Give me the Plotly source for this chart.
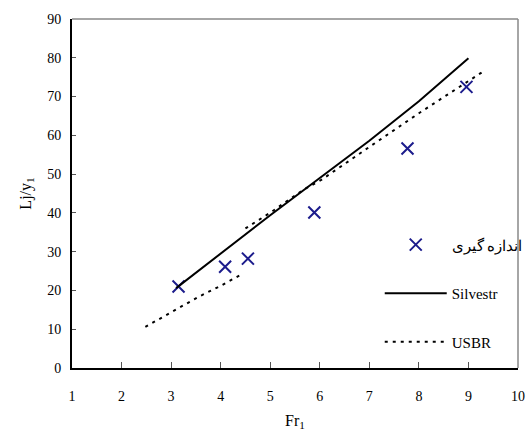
import plotly.graph_objects as go

# Measured data
meas_x = [3.15, 4.09, 4.55, 5.89, 7.77, 8.96]
meas_y = [21.0, 26.1, 28.2, 40.1, 56.6, 72.5]

# Silvestr curve
silv_x = [3.1, 4.0, 5.0, 6.0, 7.0, 8.0, 9.0]
silv_y = [20.6, 29.5, 39.4, 49.0, 58.6, 68.8, 79.9]

# USBR curve (two segments)
usbr_x = [2.48, 3.0, 3.56, 4.0, 4.43, None, 4.5, 5.03, 5.66, 6.03, 7.0, 8.0, 9.0, 9.34]
usbr_y = [10.6, 14.3, 18.4, 21.2, 24.2, None, 36.0, 40.3, 45.9, 48.5, 57.0, 65.7, 74.0, 76.8]

x_ticks = [1, 2, 3, 4, 5, 6, 7, 8, 9, 10]
y_ticks = [0, 10, 20, 30, 40, 50, 60, 70, 80, 90]

FONT = "Liberation Serif"

fig = go.Figure()
fig.add_trace(go.Scatter(
    x=meas_x, y=meas_y, mode="markers", name="اندازه گیری",
    marker=dict(symbol="x-thin", size=12, line=dict(width=2, color="#1c1c8c"), color="#1c1c8c"),
    legendgroup="a"))
fig.add_trace(go.Scatter(
    x=silv_x, y=silv_y, mode="lines", name="Silvestr",
    line=dict(color="black", width=2), legendgroup="b"))
fig.add_trace(go.Scatter(
    x=usbr_x, y=usbr_y, mode="lines", name="USBR", connectgaps=False,
    line=dict(color="black", width=2, dash="3px,5px"), legendgroup="c"))

fig.update_layout(
    width=526, height=442,
    margin=dict(l=72, r=8, t=19, b=74, autoexpand=False),
    paper_bgcolor="white", plot_bgcolor="white",
    font=dict(family=FONT, size=14, color="black"),
    showlegend=True,
    legend=dict(x=0.69, y=0.40, xanchor="left", yanchor="top",
                bgcolor="rgba(0,0,0,0)", tracegroupgap=26, itemwidth=62,
                font=dict(family=FONT, size=15)),
    xaxis=dict(range=[1, 10], tickvals=x_ticks, ticktext=[str(v) for v in x_ticks],
               showgrid=False, zeroline=False, showline=True, linecolor="black", linewidth=2,
               ticks="inside", ticklen=6, tickcolor="#555", tickwidth=1,
               ticklabelstandoff=14, ticklabeloverflow="allow",
               title=dict(text="Fr<sub>1</sub>", standoff=12, font=dict(size=16))),
    yaxis=dict(range=[0, 90], tickvals=y_ticks, ticktext=[str(v) for v in y_ticks],
               showgrid=False, zeroline=False, showline=True, linecolor="black", linewidth=2,
               ticks="inside", ticklen=4, tickcolor="#555", tickwidth=1,
               ticklabelstandoff=6, ticklabeloverflow="allow",
               title=dict(text="Lj/y<sub>1</sub>", standoff=12, font=dict(size=16))),
    shapes=[
        dict(type="line", xref="paper", yref="paper", x0=0, x1=1, y0=1, y1=1,
             line=dict(color="#888", width=1.5)),
        dict(type="line", xref="paper", yref="paper", x0=1, x1=1, y0=0, y1=1,
             line=dict(color="#888", width=1.5)),
    ],
)

fig.write_html("out.html")
